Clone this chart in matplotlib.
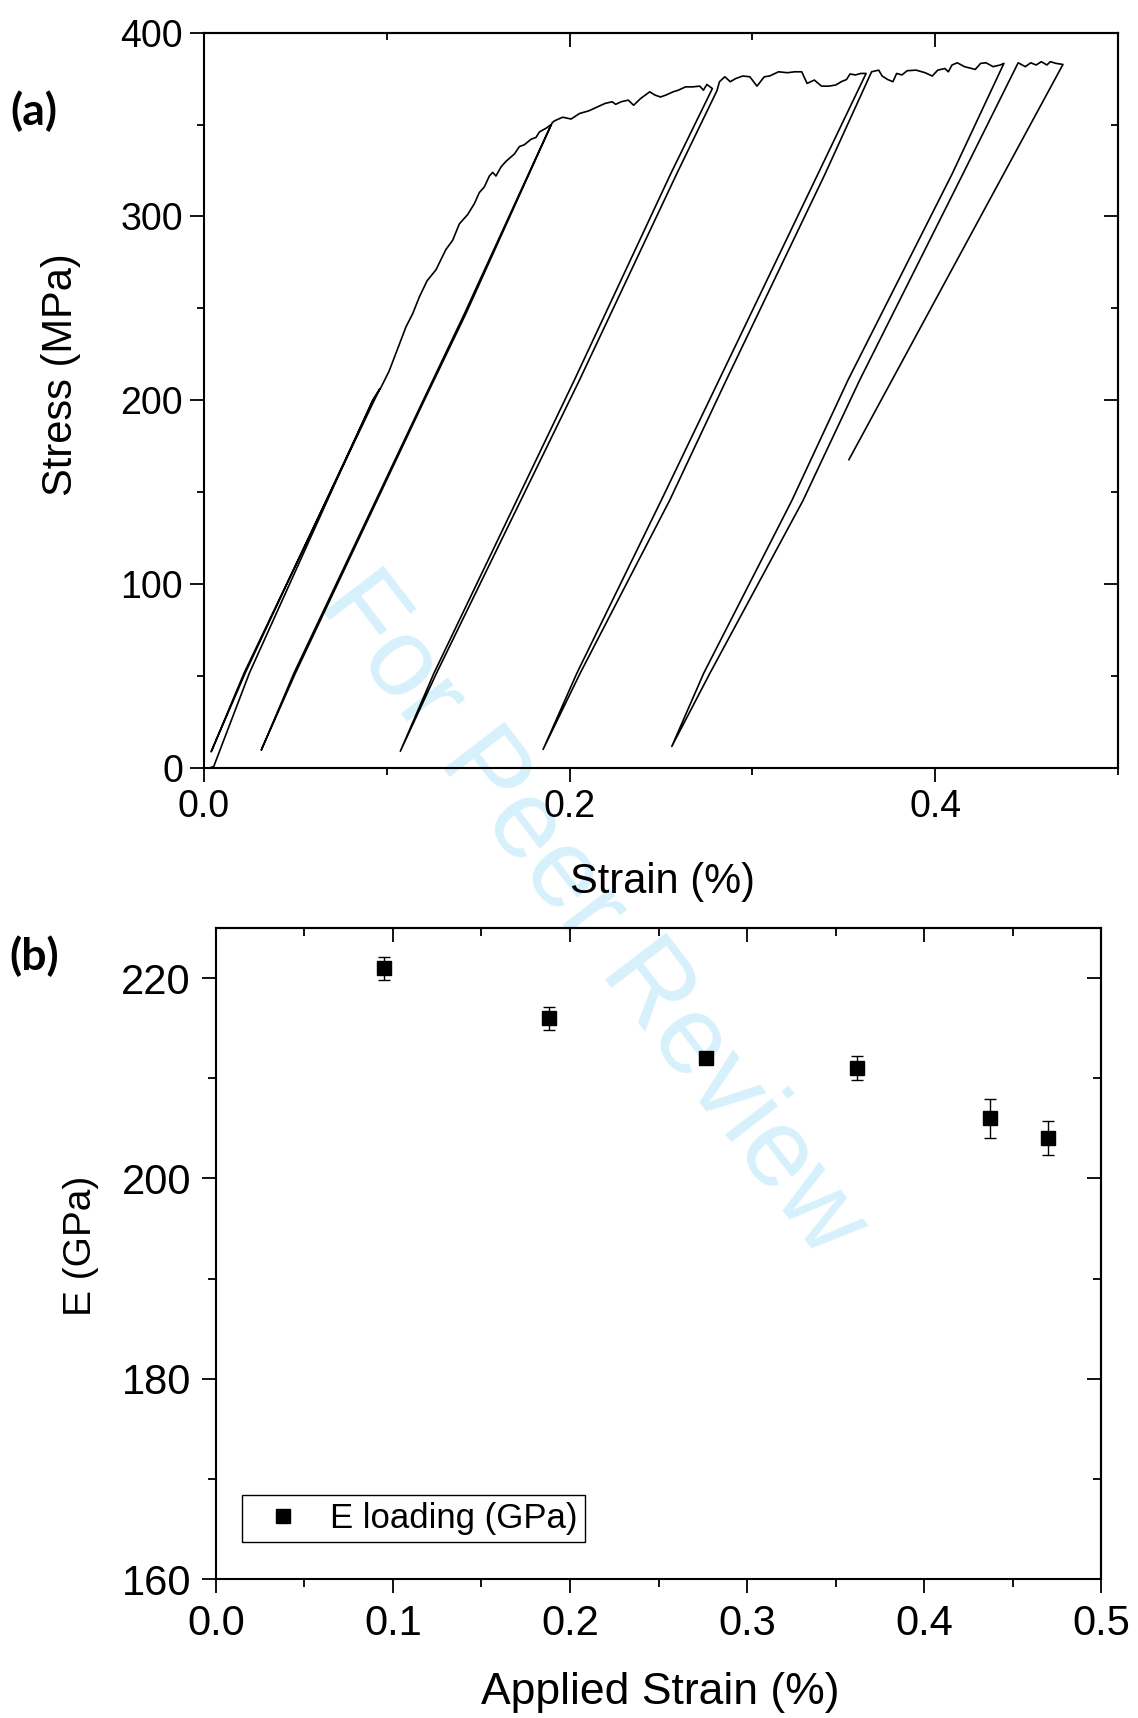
import numpy as np
import matplotlib.pyplot as plt
from matplotlib.ticker import MultipleLocator, NullFormatter

plt.rcParams['font.family'] = ['Liberation Sans', 'DejaVu Sans']

# ---- (a) cyclic stress-strain curve, pieces in test order ----
load0_strain = [0.0030, 0.0053, 0.0248, 0.0922, 0.0960]
load0_stress = [0.0, 0.8, 51.6, 200.0, 206.0]

unload1_strain = [0.0960, 0.0219, 0.0039]
unload1_stress = [206.0, 51.6, 8.8]
reload1_strain = [0.0039, 0.0225, 0.0925, 0.0968]
reload1_stress = [8.8, 51.6, 200.0, 207.0]

env1_strain = [0.0968, 0.1013, 0.1059, 0.1105, 0.1141, 0.1177, 0.1220, 0.1269, 0.1323,
               0.1360, 0.1397, 0.1442, 0.1479, 0.1506, 0.1533, 0.1561, 0.1579, 0.1597,
               0.1625, 0.1652, 0.1698, 0.1725, 0.1752, 0.1789, 0.1816, 0.1835, 0.1871, 0.1899]
env1_stress = [207, 216, 228, 240, 247, 256, 265, 271, 282, 287, 296, 301, 307, 313, 316,
               322, 324, 322, 327, 330, 334, 338, 339, 342, 343, 346, 348, 350]

unload2_strain = [0.1899, 0.1424, 0.1199, 0.0492, 0.0313]
unload2_stress = [350, 247, 200, 51.6, 9.7]
reload2_strain = [0.0313, 0.0500, 0.1205, 0.1432, 0.1905]
reload2_stress = [9.7, 51.6, 200, 247, 351]

env2_strain = [0.1905, 0.1917, 0.1962, 0.2008, 0.2054, 0.2106, 0.2145, 0.2194, 0.2233,
               0.2252, 0.2282, 0.2321, 0.2350, 0.2389, 0.2438, 0.2468, 0.2497, 0.2526,
               0.2566, 0.2595, 0.2634, 0.2673, 0.2712, 0.2732, 0.2751, 0.2781]
env2_stress = [351, 352, 354, 353, 356, 357.5, 359.3, 361.5, 362.4, 361, 362.4, 363.3,
               360.5, 364.2, 367.8, 366, 365, 366, 367.8, 368.7, 370.5, 370.5, 370.9,
               368.7, 371.8, 369.6]

unload3_strain = [0.2781, 0.2552, 0.2026, 0.1258, 0.1074]
unload3_stress = [369.6, 323, 211, 51.6, 9.1]
reload3_strain = [0.1074, 0.1272, 0.2054, 0.2585, 0.2806]
reload3_stress = [9.1, 51.6, 211, 323, 368.4]

env3_strain = [0.2806, 0.2820, 0.2849, 0.2879, 0.2908, 0.2947, 0.2986, 0.3025, 0.3065,
               0.3094, 0.3143, 0.3192, 0.3231, 0.3270, 0.3299, 0.3339, 0.3378, 0.3417,
               0.3456, 0.3486, 0.3515, 0.3534, 0.3564, 0.3593, 0.3622]
env3_stress = [368.4, 373.3, 376, 373.3, 375, 376.4, 376, 370.9, 376, 376.4, 378.7, 378.2,
               378.7, 378.7, 372.4, 374.2, 370.9, 370.9, 371.5, 373.3, 374.5, 377.5, 377,
               377.8, 377.8]

unload4_strain = [0.3622, 0.3358, 0.2817, 0.2501, 0.2040, 0.1855]
unload4_stress = [377.8, 323, 211, 145.5, 51.6, 10.1]
reload4_strain = [0.1855, 0.2058, 0.2547, 0.2857, 0.3397, 0.3652]
reload4_stress = [10.1, 51.6, 145.5, 211, 323, 378.7]

env4_strain = [0.3652, 0.3691, 0.3710, 0.3740, 0.3769, 0.3789, 0.3818, 0.3847, 0.3896,
               0.3945, 0.3984, 0.4014, 0.4053, 0.4072, 0.4092, 0.4121, 0.4160, 0.4219,
               0.4249, 0.4278, 0.4317, 0.4356, 0.4376]
env4_stress = [378.7, 379.6, 376.4, 374.5, 373.3, 377.8, 377, 379.3, 379.6, 378.2, 376.4,
               379.6, 380.5, 378.7, 382.4, 383.6, 381.5, 380, 383.3, 383.6, 381.5, 382.4,
               383.3]

unload5_strain = [0.4376, 0.4092, 0.3523, 0.3216, 0.2734, 0.2559]
unload5_stress = [383.3, 323, 211, 145.5, 51.6, 11.7]
reload5_strain = [0.2559, 0.2768, 0.3277, 0.3587, 0.4151, 0.4454]
reload5_stress = [11.7, 51.6, 145.5, 211, 323, 383.6]

env5_strain = [0.4454, 0.4493, 0.4523, 0.4552, 0.4581, 0.4611, 0.4630, 0.4660, 0.4699]
env5_stress = [383.6, 381.5, 383.6, 382.4, 384.2, 382.4, 384.2, 383.3, 382.7]

final_strain = [0.4699, 0.3528]
final_stress = [382.7, 167.7]

# ---- (b) modulus vs applied strain ----
applied_strain = [0.095, 0.188, 0.277, 0.362, 0.437, 0.470]
e_loading = [221.0, 216.0, 212.0, 211.0, 206.0, 204.0]
e_err = [1.15, 1.15, 0.4, 1.2, 1.95, 1.7]


def mirror(ax, xmaj, xmin, ymaj, ymin, maj_len, min_len):
    # origin-style: ticks out on bottom/left, in on top/right
    ax.xaxis.set_major_locator(MultipleLocator(xmaj))
    ax.xaxis.set_minor_locator(MultipleLocator(xmin))
    ax.yaxis.set_major_locator(MultipleLocator(ymaj))
    ax.yaxis.set_minor_locator(MultipleLocator(ymin))
    ax.tick_params(which='major', direction='out', length=maj_len, width=1.3)
    ax.tick_params(which='minor', direction='out', length=min_len, width=1.3)
    top = ax.secondary_xaxis('top')
    right = ax.secondary_yaxis('right')
    for sec, axis in ((top, top.xaxis), (right, right.yaxis)):
        axis.set_major_locator(MultipleLocator(xmaj if sec is top else ymaj))
        axis.set_minor_locator(MultipleLocator(xmin if sec is top else ymin))
        axis.set_major_formatter(NullFormatter())
        sec.tick_params(which='major', direction='in', length=maj_len, width=1.3)
        sec.tick_params(which='minor', direction='in', length=min_len, width=1.3)
        for sp in sec.spines.values():
            sp.set_linewidth(1.5)
    for sp in ax.spines.values():
        sp.set_linewidth(1.5)


fig = plt.figure(figsize=(11.38, 17.18), dpi=100)

fig.text(0.5198, 0.4676, 'For Peer Review', rotation=-52.5, rotation_mode='anchor',
         ha='center', va='center', fontsize=80, color='#d6f0fc', zorder=-1)

# panel (a)
ax1 = fig.add_axes([0.1793, 0.5530, 0.8031, 0.4280])
ax1.patch.set_alpha(0)
strain = np.concatenate([load0_strain, unload1_strain, reload1_strain, env1_strain,
                         unload2_strain, reload2_strain, env2_strain,
                         unload3_strain, reload3_strain, env3_strain,
                         unload4_strain, reload4_strain, env4_strain,
                         unload5_strain, reload5_strain, env5_strain, final_strain])
stress = np.concatenate([load0_stress, unload1_stress, reload1_stress, env1_stress,
                         unload2_stress, reload2_stress, env2_stress,
                         unload3_stress, reload3_stress, env3_stress,
                         unload4_stress, reload4_stress, env4_stress,
                         unload5_stress, reload5_stress, env5_stress, final_stress])
ax1.plot(strain, stress, color='black', lw=1.2)
ax1.set_xlim(0, 0.5)
ax1.set_ylim(0, 400)
mirror(ax1, 0.2, 0.1, 100, 50, 10, 5)
ax1.tick_params(labelsize=27, pad=5)
ax1.xaxis.set_major_formatter(lambda v, p: f'{v:.1f}')
ax1.set_xlabel('Strain (%)', fontsize=30, va='center')
ax1.xaxis.set_label_coords(0.502, -0.155)
ax1.set_ylabel('Stress (MPa)', fontsize=30, va='center')
ax1.yaxis.set_label_coords(-0.157, 0.535)

# panel (b)
ax2 = fig.add_axes([0.1898, 0.0809, 0.7777, 0.3789])
ax2.patch.set_alpha(0)
eb = ax2.errorbar(applied_strain, e_loading, yerr=e_err, fmt='s', color='black',
                  ms=10, elinewidth=1, capsize=4.5, capthick=1)
ax2.set_xlim(0, 0.5)
ax2.set_ylim(160, 225)
mirror(ax2, 0.1, 0.05, 20, 10, 10, 5.5)
ax2.tick_params(labelsize=30, pad=8)
ax2.xaxis.set_major_formatter(lambda v, p: f'{v:.1f}')
ax2.set_xlabel('Applied Strain (%)', fontsize=32, va='center')
ax2.xaxis.set_label_coords(0.502, -0.174)
ax2.set_ylabel('E (GPa)', fontsize=28, va='center')
ax2.yaxis.set_label_coords(-0.152, 0.512)
leg = ax2.legend([eb[0]], ['E loading (GPa)'], loc='lower left',
                 bbox_to_anchor=(0.029, 0.057), fontsize=25, frameon=True,
                 fancybox=False, edgecolor='black', framealpha=1,
                 borderpad=0.2, handlelength=2.0, handletextpad=0.35,
                 borderaxespad=0)
leg.get_frame().set_linewidth(1.0)

fig.text(0.030, 0.9354, '(a)', fontsize=32, fontweight='bold', family=['Lato', 'DejaVu Sans'],
         ha='center', va='center')
fig.text(0.030, 0.4435, '(b)', fontsize=32, fontweight='bold', family=['Lato', 'DejaVu Sans'],
         ha='center', va='center')

fig.savefig('out.png', dpi=100)
